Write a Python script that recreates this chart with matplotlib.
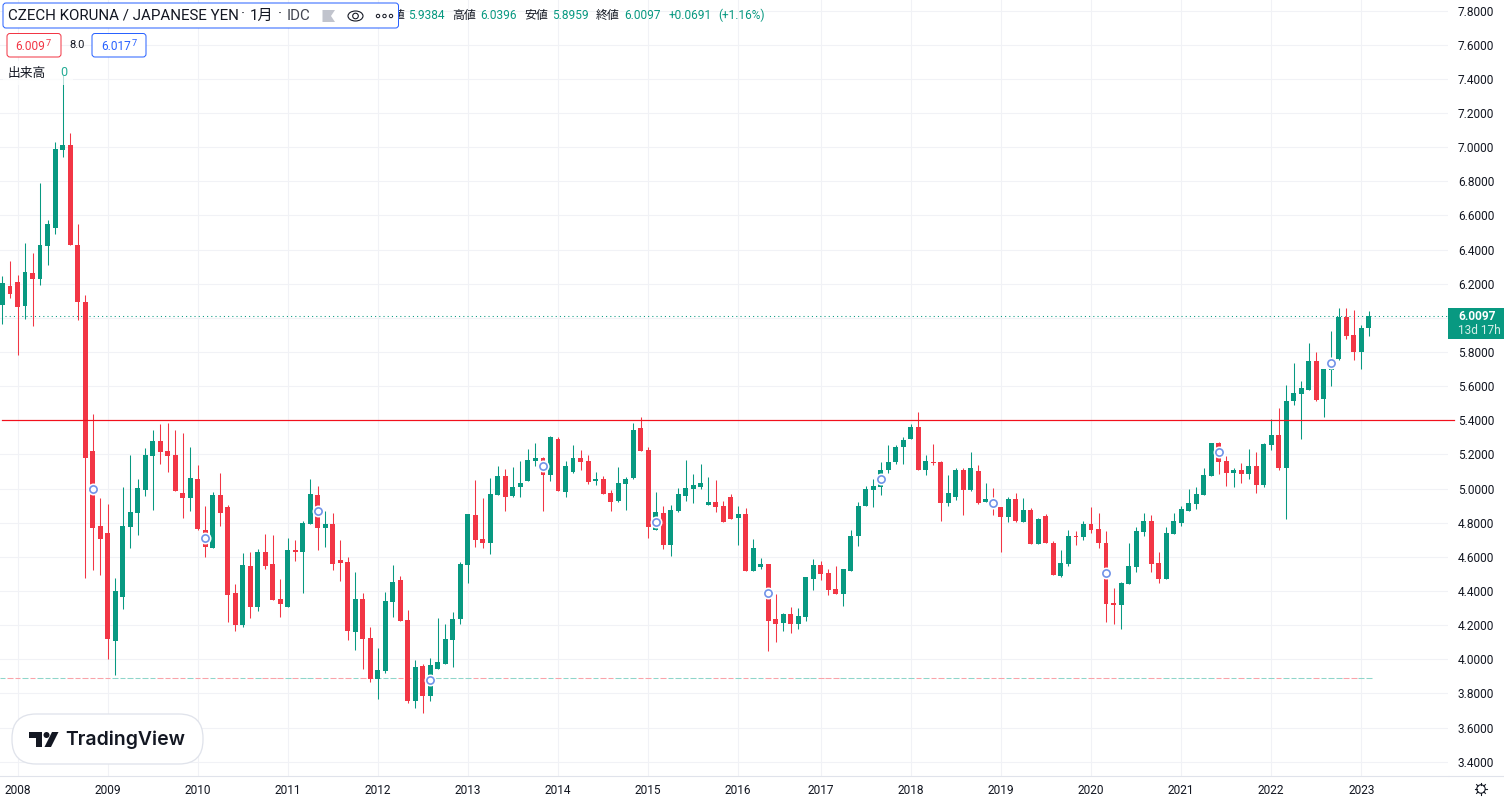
#!/usr/bin/env python
"""CZK/JPY monthly candles, TradingView look. Bars sit on an index axis (no gap months)."""
import numpy as np
import matplotlib; matplotlib.use("Agg"); import matplotlib.pyplot as plt
from matplotlib.patches import FancyBboxPatch, Rectangle, Polygon, Circle, Ellipse

# bar index 0 = Jan 2008, first bars are cut by the left edge
bar_index = list(range(-2, 181))
opens = [6.076,6.188,6.211,6.070,6.264,6.229,6.422,6.527,6.984,7.014,6.428,6.094,5.220,4.780,4.739,
 4.106,4.364,4.774,4.856,4.991,5.190,5.278,5.220,5.196,4.973,4.944,5.055,4.757,4.651,4.962,
 4.891,4.388,4.200,4.546,4.305,4.628,4.557,4.352,4.305,4.639,4.628,4.793,4.963,4.770,4.793,
 4.582,4.570,4.160,4.354,4.125,3.885,3.932,4.336,4.465,4.230,3.756,3.961,3.785,3.943,3.973,
 4.113,4.236,4.553,4.846,4.705,4.682,4.963,5.073,4.956,5.009,5.044,5.161,5.179,5.079,5.290,
 4.979,5.096,5.179,5.161,5.044,5.055,4.973,4.927,5.026,5.061,5.354,5.225,4.757,4.856,4.669,
 4.868,4.956,4.997,5.009,4.902,4.920,4.896,4.949,4.826,4.850,4.516,4.539,4.557,4.234,4.211,
 4.264,4.205,4.246,4.469,4.551,4.504,4.410,4.381,4.516,4.721,4.896,4.990,5.008,5.108,5.155,
 5.243,5.290,5.360,5.108,5.155,5.155,4.915,4.950,5.108,4.991,5.102,4.921,4.925,4.891,4.833,
 4.938,4.804,4.874,4.675,4.839,4.680,4.487,4.557,4.723,4.717,4.793,4.764,4.682,4.330,4.318,
 4.441,4.541,4.746,4.811,4.564,4.471,4.734,4.799,4.869,4.910,4.963,5.074,5.268,5.162,5.092,
 5.109,5.086,5.133,5.021,5.255,5.314,5.121,5.513,5.554,5.578,5.748,5.525,5.695,5.759,6.005,
 5.900,5.800,5.9384]
highs = [6.246,6.334,6.252,6.439,6.381,6.791,6.574,7.031,7.42,7.084,6.551,6.135,5.436,4.944,4.909,
 4.475,5.009,5.196,5.055,5.237,5.343,5.378,5.384,5.343,5.325,5.243,5.138,4.897,4.979,5.091,
 4.903,4.44,4.622,4.628,4.645,4.733,4.727,4.47,4.71,4.698,4.81,5.057,5.016,4.869,4.857,
 4.70,4.60,4.512,4.389,4.189,4.066,4.395,4.553,4.488,4.289,3.996,3.973,4.008,4.242,4.207,
 4.277,4.57,4.852,5.051,4.945,5.0625,5.133,5.114,5.126,5.161,5.231,5.266,5.184,5.307,5.302,
 5.161,5.255,5.225,5.196,5.096,5.073,4.991,5.126,5.067,5.384,5.419,5.243,4.979,4.897,4.903,
 5.003,5.167,5.085,5.143,5.066,5.049,4.926,4.967,4.896,4.885,4.703,4.592,4.557,4.381,4.27,
 4.305,4.299,4.48,4.586,4.574,4.527,4.545,4.527,4.756,4.92,5.014,5.055,5.154,5.255,5.255,
 5.302,5.378,5.448,5.196,5.261,5.161,5.079,5.12,5.12,5.214,5.1375,5.032,5.003,4.891,4.95,
 4.973,4.944,4.886,4.827,4.85,4.692,4.639,4.757,4.752,4.811,4.893,4.857,4.752,4.418,4.453,
 4.682,4.775,4.857,4.846,4.629,4.775,4.857,4.898,4.998,5.01,5.121,5.268,5.273,5.191,5.121,
 5.15,5.232,5.215,5.268,5.408,5.472,5.607,5.736,5.63,5.853,5.80,5.70,5.923,6.058,6.058,
 6.046,5.959,6.0396]
lows = [5.965,6.117,5.783,5.994,5.953,6.193,6.311,6.492,6.943,6.428,5.988,4.475,4.522,4.493,4.001,
 3.907,4.294,4.651,4.727,4.956,4.874,5.143,5.096,4.985,4.827,4.868,4.757,4.598,4.651,4.78,
 4.218,4.165,4.188,4.241,4.282,4.528,4.346,4.247,4.305,4.575,4.388,4.793,4.641,4.658,4.523,
 4.459,4.113,4.055,3.943,3.867,3.768,3.92,4.248,4.225,3.744,3.715,3.686,3.756,3.943,3.973,
 3.955,4.207,4.447,4.658,4.652,4.617,4.963,4.868,4.95,4.95,5.044,5.132,4.868,5.044,4.985,
 4.95,5.091,5.108,5.026,5.02,4.968,4.868,4.921,4.874,5.055,5.22,4.71,4.757,4.645,4.604,
 4.862,4.927,4.915,4.997,4.902,4.861,4.803,4.82,4.668,4.516,4.516,4.527,4.047,4.1,4.164,
 4.152,4.176,4.223,4.404,4.463,4.375,4.381,4.311,4.516,4.662,4.896,4.891,4.961,5.091,5.143,
 5.143,5.29,5.108,5.079,5.1375,4.81,4.897,4.932,4.845,4.985,4.909,4.921,4.845,4.628,4.804,
 4.804,4.804,4.675,4.675,4.68,4.493,4.481,4.546,4.67,4.70,4.74,4.652,4.219,4.207,4.178,
 4.441,4.512,4.723,4.512,4.447,4.471,4.734,4.781,4.869,4.881,4.963,5.074,5.086,5.016,5.01,
 5.033,5.057,4.975,5.01,5.226,5.109,4.822,5.49,5.29,5.578,5.513,5.42,5.601,5.754,5.877,
 5.754,5.70,5.8959]
closes = [6.205,6.141,6.064,6.270,6.229,6.428,6.551,6.990,7.014,6.428,6.094,5.179,4.768,4.704,4.118,
 4.399,4.780,4.862,5.003,5.196,5.278,5.214,5.190,4.985,4.944,5.061,4.763,4.657,4.962,4.856,
 4.376,4.200,4.552,4.305,4.628,4.546,4.346,4.323,4.639,4.628,4.798,4.969,4.770,4.793,4.559,
 4.564,4.166,4.354,4.119,3.885,3.9375,4.342,4.453,4.225,3.756,3.955,3.785,3.967,3.984,4.119,
 4.236,4.559,4.852,4.700,4.682,4.969,5.074,4.950,5.009,5.032,5.167,5.179,5.079,5.302,4.985,
 5.132,5.179,5.155,5.038,5.055,4.968,4.921,5.032,5.055,5.343,5.220,4.774,4.862,4.669,4.874,
 4.968,5.003,5.020,5.032,4.920,4.891,4.803,4.820,4.850,4.516,4.650,4.557,4.223,4.205,4.264,
 4.205,4.252,4.480,4.551,4.498,4.404,4.381,4.527,4.721,4.896,4.996,5.014,5.107,5.155,5.243,
 5.284,5.360,5.108,5.161,5.149,4.915,4.973,5.108,4.991,5.120,4.915,4.938,4.895,4.833,4.938,
 4.810,4.874,4.675,4.821,4.680,4.493,4.563,4.721,4.719,4.793,4.758,4.682,4.324,4.318,4.447,
 4.547,4.752,4.811,4.559,4.471,4.740,4.811,4.881,4.916,4.969,5.080,5.268,5.156,5.092,5.109,
 5.086,5.133,5.021,5.262,5.314,5.121,5.513,5.560,5.589,5.748,5.519,5.700,5.740,6.005,5.894,
 5.800,5.941,6.0097]
# dividend-style circles
event_index = [10,25,40,55,70,85,100,115,130,145,160,175]
event_price = [4.995,4.708,4.867,3.877,5.13,4.807,4.389,5.059,4.913,4.504,5.213,5.734]
year_index = [0,12,24,36,48,60,72,84,96,107,119,131,143,155,167,179]
year_labels = ["2008","2009","2010","2011","2012","2013","2014","2015","2016","2017","2018",
               "2019","2020","2021","2022","2023"]
price_ticks = [3.4,3.6,3.8,4.0,4.2,4.4,4.6,4.8,5.0,5.2,5.4,5.6,5.8,6.0,6.2,6.4,6.6,6.8,7.0,7.2,7.4,7.6,7.8]
last_price = 6.0097
level_price = 5.4
low_price = 3.8875

GREEN="#089981"; RED="#F23645"; GRID="#f1f2f6"; INK="#131722"; EDGE="#e0e3eb"
FONT=["Roboto","Noto Sans CJK JP","DejaVu Sans"]
plt.rcParams["font.family"]=FONT

W,H=1504,802; PX=0.72   # 1 px in points at dpi 100
fig=plt.figure(figsize=(W/100,H/100),dpi=100)
ax=fig.add_axes([0,(H-776)/H,1448/W,776/H])
ax.set_xlim((0-17.5)/7.507,(1448-17.5)/7.507)
ax.set_ylim(5.4+(420.3-776)/170.7,5.4+420.3/170.7)
for s in ax.spines.values(): s.set_visible(False)
ax.set_xticks(year_index,year_labels)
# the 6.0000 label sits under the price tag in the original
ax.set_yticks(price_ticks,["" if v==6.0 else f"{v:.4f}" for v in price_ticks])
ax.yaxis.tick_right()
ax.tick_params(axis="y",length=0,pad=7.2,labelsize=8.6,labelcolor=INK)
ax.tick_params(axis="x",length=0,pad=5.7,labelsize=8.6,labelcolor=INK)
for t in ax.get_yticklabels(): t.set_va("center_baseline")
ax.grid(True,color=GRID,lw=1.1*PX,zorder=0); ax.set_axisbelow(True)

x=np.array(bar_index); o=np.array(opens); h=np.array(highs); l=np.array(lows); c=np.array(closes)
cols=[GREEN if b>=a else RED for a,b in zip(o,c)]
ax.vlines(x,l,h,colors=cols,lw=1.05*PX,zorder=3)
ax.bar(x,np.maximum(np.abs(c-o),0.004),bottom=np.minimum(o,c),width=0.66,color=cols,lw=0,zorder=4)

# reference lines
ax.plot([2/1448,1454/1448],[level_price]*2,color="#f2101c",lw=1.2*PX,transform=ax.get_yaxis_transform(),clip_on=False,zorder=5)
ax.plot([5/1448,1],[last_price]*2,color=GREEN,lw=1.05*PX,ls=(0,(1,3)),transform=ax.get_yaxis_transform(),zorder=2)
soft=["#8fd5ca" if k==GREEN else "#f9a3a9" for k in cols]
ax.hlines([low_price]*len(x),x-0.37,x+0.37,colors=soft,lw=1.05*PX,zorder=2)

# event circles
ax.scatter(event_index,event_price,s=75,c="white",lw=0,zorder=6)
ax.scatter(event_index,event_price,s=27,c="white",edgecolors="#7092e8",lw=1.5*PX*1.1,zorder=7)

# chrome drawn in pixel coords
ov=fig.add_axes([0,0,1,1]); ov.set_xlim(0,W); ov.set_ylim(H,0); ov.axis("off"); ov.patch.set_alpha(0)
def T(px,py,s,size=8.6,color=INK,**kw):
    kw.setdefault("va","center"); kw.setdefault("ha","left")
    ov.text(px,py,s,fontsize=size,color=color,**kw)
def box(x0,y0,x1,y1,ec,fc="white",rad=3,lw=1.0,z=3):
    ov.add_patch(FancyBboxPatch((x0+rad,y0+rad),x1-x0-2*rad,y1-y0-2*rad,boxstyle=f"round,pad={rad},rounding_size={rad}",
                 ec=ec,fc=fc,lw=lw*PX,zorder=z))

ov.plot([0,1448],[776,776],color=EDGE,lw=1.1*PX,zorder=1)
ov.plot([1449,W],[776,776],color=EDGE,lw=1.1*PX,zorder=1)
# OHLC read-out, its start is covered by the title box
for px,s,col in [(381,"始値",INK),(408,"5.9384",GREEN),(452,"高値",INK),(480,"6.0396",GREEN),(524,"安値",INK),(552,"5.8959",GREEN),
                 (596,"終値",INK),(624,"6.0097",GREEN),(669,"+0.0691",GREEN),(718,"(+1.16%)",GREEN)]:
    T(px,15.5,s,color=col,zorder=2)
box(3,3,398.5,28,"#2962ff",z=3)
T(8,16,"CZECH KORUNA / JAPANESE YEN",size=10.9,zorder=4)
T(243,15,"·",size=10.9,ha="center",zorder=4); T(250,15.5,"1月",size=10.9,zorder=4)
T(280,15,"·",size=10.9,ha="center",zorder=4); T(287,16,"IDC",size=10.9,color="#434651",zorder=4)
ov.add_patch(Polygon([(322.5,10),(335,10),(331,16),(335,22),(322.5,22)],fc="#c1c4cd",ec="none",zorder=4))
ov.add_patch(Ellipse((355.5,16),15,10,fc="none",ec=INK,lw=1.1*PX,zorder=4))
ov.add_patch(Circle((355.5,16),2.8,fc="none",ec=INK,lw=1.1*PX,zorder=4))
for px in (378,384.5,391):
    ov.add_patch(Circle((px,16),1.7,fc="none",ec=INK,lw=1.0*PX,zorder=4))
box(7,33.5,61,57,RED); T(15,46,"6.009",color=RED,zorder=4); T(45.5,44,"7",size=6.6,color=RED,zorder=4)
T(69,45.5,"8.0",size=8,color=INK,zorder=4)
box(92,33.5,146,57,"#2962ff"); T(101,46,"6.017",color="#2962ff",zorder=4); T(131.5,44,"7",size=6.6,color="#2962ff",zorder=4)
ov.add_patch(Rectangle((3,61),70,24,fc="white",ec="none",alpha=.7,zorder=2))
T(8,73,"出来高",size=9.2,zorder=4); T(60,73,"0",size=9,color="#22ab94",zorder=4)
# price tag
ov.add_patch(Rectangle((1448,308),56,31,fc=GREEN,ec="none",zorder=3))
T(1458,316,"6.0097",color="white",fontweight="bold",zorder=4); T(1458,330.5,"13d 17h",color="#d5efe9",zorder=4)
# gear
ov.add_patch(Circle((1481,789),4.2,fc="none",ec=INK,lw=1.1*PX,zorder=4))
for a in np.arange(0,360,45):
    r=np.deg2rad(a); ov.plot([1481+4.2*np.cos(r),1481+6.2*np.cos(r)],[789+4.2*np.sin(r),789+6.2*np.sin(r)],color=INK,lw=1.1*PX,zorder=4)
# logo
box(12,714,203,764,EDGE,rad=24,lw=1.3,z=3)
ov.add_patch(Polygon([(29,732),(41.5,732),(41.5,747),(35.5,747),(35.5,738),(29,738)],fc=INK,ec="none",zorder=4))
ov.add_patch(Circle((46.5,735),3,fc=INK,ec="none",zorder=4))
ov.add_patch(Polygon([(52,732),(58.5,732),(51,747),(44.5,747)],fc=INK,ec="none",zorder=4))
T(65,740,"TradingView",size=14,fontweight="semibold",family="Inter",zorder=4)
fig.savefig("out.png",dpi=100)
